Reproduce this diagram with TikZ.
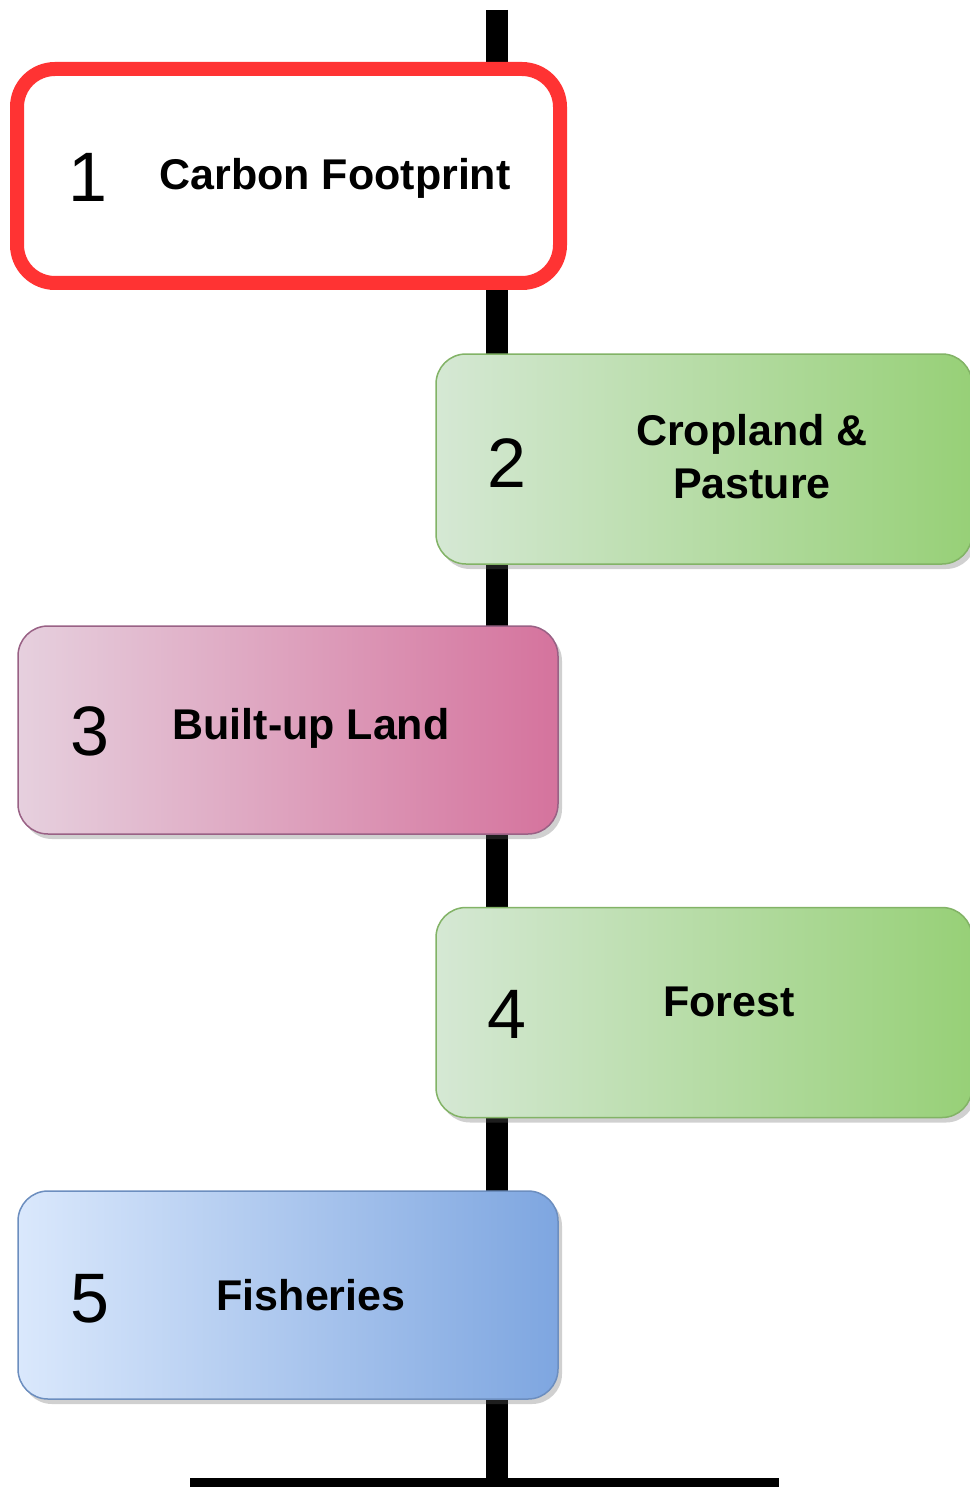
\documentclass[tikz,border=0pt]{standalone}
\usepackage{fontspec}
\setmainfont{Liberation Sans}
\usetikzlibrary{shadows}
\definecolor{redline}{HTML}{FF3333}
\definecolor{gL}{HTML}{D5E8D4}\definecolor{gR}{HTML}{97D077}\definecolor{gS}{HTML}{82B366}
\definecolor{pL}{HTML}{E6D0DE}\definecolor{pR}{HTML}{D5739D}\definecolor{pS}{HTML}{996185}
\definecolor{bL}{HTML}{DAE8FC}\definecolor{bR}{HTML}{7EA6E0}\definecolor{bS}{HTML}{6C8EBF}
\tikzset{
  boxbase/.style={rectangle, rounded corners=30pt, inner sep=0pt, line width=1.5pt,
    drop shadow={shadow xshift=4pt, shadow yshift=-5pt, opacity=0.3, fill=black!60}},
  greenbox/.style={boxbase, draw=gS, left color=gL, right color=gR, minimum width=536pt, minimum height=210pt},
  pinkbox/.style={boxbase, draw=pS, left color=pL, right color=pR, minimum width=540pt, minimum height=208pt},
  bluebox/.style={boxbase, draw=bS, left color=bL, right color=bR, minimum width=540pt, minimum height=208pt},
  redbox/.style={rectangle, rounded corners=38pt, inner sep=0pt, line width=14pt, draw=redline, fill=white,
    minimum width=543pt, minimum height=214pt,
    drop shadow={shadow xshift=4pt, shadow yshift=-5pt, opacity=0.3, fill=black!60}},
  digit/.style={anchor=base, inner sep=0pt, font=\fontsize{70}{80}\selectfont},
  label/.style={anchor=base, inner sep=0pt, align=center, font=\fontsize{43}{53}\selectfont\bfseries},
  axis/.style={line width=22pt, black},
  baseline/.style={line width=12pt, black}
}
\begin{document}
\begin{tikzpicture}[x=1pt, y=-1pt]
\useasboundingbox (0,0) rectangle (969,1487);
\fill[white] (0,0) rectangle (969,1487);
\coordinate (top) at (497,10);
\coordinate (bot) at (497,1487);
\coordinate (bl) at (190,1484);
\coordinate (br) at (779,1484);
\draw[axis] (top) -- (bot);
\draw[baseline] (bl) -- (br);

\node[redbox] (b1) at (288.5,176) {};
\node[digit] (n1) at (88,202) {1};
\node[label] (t1) at (335,190) {Carbon Footprint};

\node[greenbox] (b2) at (704,459) {};
\node[digit] (n2) at (507,487) {2};
\node[label, anchor=north] (t2) at (752,414) {Cropland \&\\Pasture};

\node[pinkbox] (b3) at (288,730) {};
\node[digit] (n3) at (90,755) {3};
\node[label] (t3) at (311,739) {Built-up Land};

\node[greenbox] (b4) at (704,1012.5) {};
\node[digit] (n4) at (507,1038) {4};
\node[label] (t4) at (729,1016) {Forest};

\node[bluebox] (b5) at (288,1295) {};
\node[digit] (n5) at (90,1322) {5};
\node[label] (t5) at (311,1310) {Fisheries};
\end{tikzpicture}
\end{document}
